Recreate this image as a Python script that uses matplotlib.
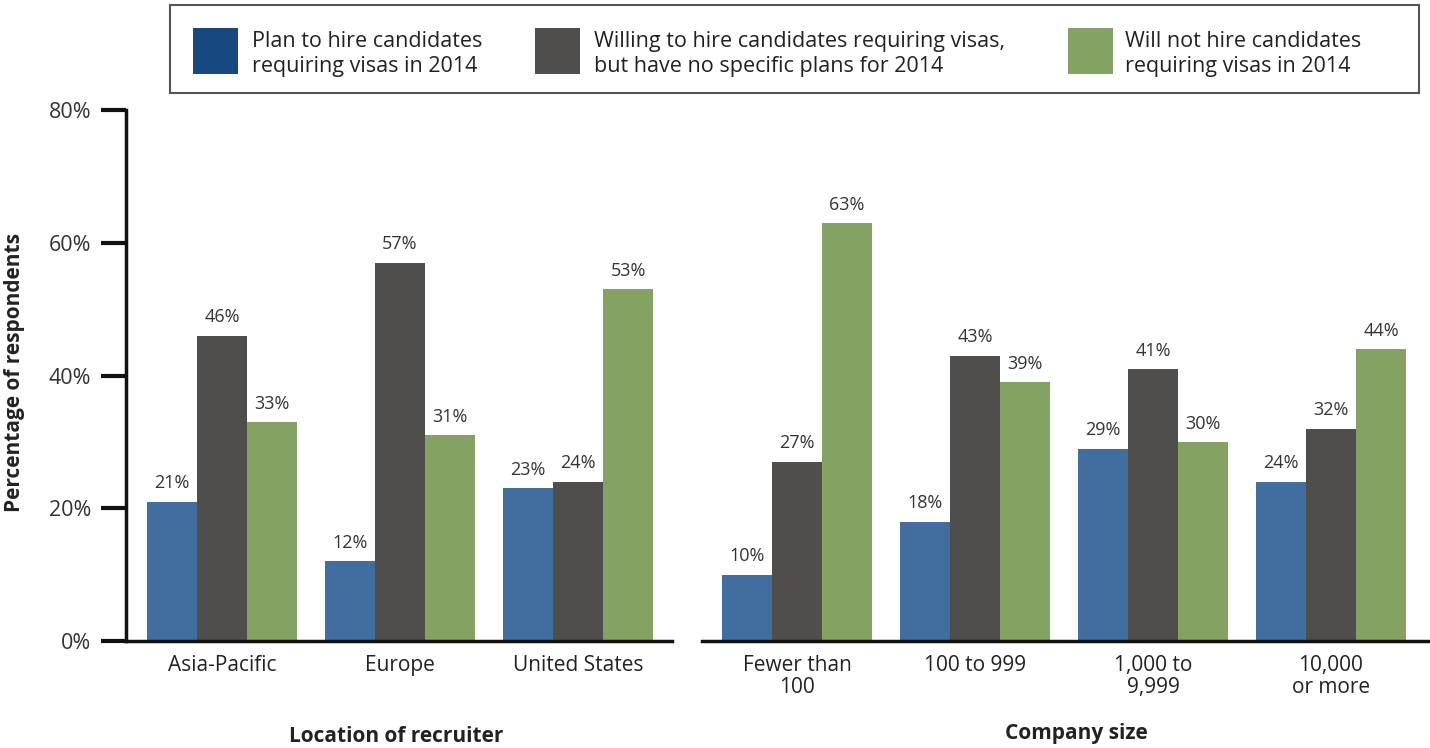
import matplotlib
matplotlib.use("Agg")
import matplotlib.pyplot as plt
from matplotlib.patches import Rectangle
import numpy as np

plt.rcParams['font.family'] = ['Open Sans', 'DejaVu Sans']

series = ["Plan to hire candidates\nrequiring visas in 2014",
          "Willing to hire candidates requiring visas,\nbut have no specific plans for 2014",
          "Will not hire candidates\nrequiring visas in 2014"]
bar_colors = ["#416e9e", "#4f4e4c", "#84a362"]
legend_colors = ["#17487f", "#4f4e4c", "#84a362"]

loc_cats = ["Asia-Pacific", "Europe", "United States"]
loc_plan = [21, 12, 23]
loc_willing = [46, 57, 24]
loc_willnot = [33, 31, 53]

size_cats = ["Fewer than\n100", "100 to 999", "1,000 to\n9,999", "10,000\nor more"]
size_plan = [10, 18, 29, 24]
size_willing = [27, 43, 41, 32]
size_willnot = [63, 39, 30, 44]

yticks = [0, 20, 40, 60, 80]
ytick_labels = ["0%", "20%", "40%", "60%", "80%"]

W, H = 1430, 748
fig = plt.figure(figsize=(W/100, H/100), dpi=100)

def fx(px): return px / W
def fy(py): return 1 - py / H

ax_bottom = fy(641)
ax_h = fy(110) - fy(641)
axL = fig.add_axes([fx(126), ax_bottom, fx(672 - 126), ax_h])
axR = fig.add_axes([fx(702), ax_bottom, fx(1428 - 702), ax_h])

bw = 50 / 178

def draw(ax, cats, vals, xlim):
    x = np.arange(len(cats))
    for i, (v, c) in enumerate(zip(vals, bar_colors)):
        xs = x + (i - 1) * bw
        ax.bar(xs, v, width=bw, color=c, linewidth=0)
        for xi, vi in zip(xs, v):
            ax.text(xi, vi + 1.4, f"{vi}%", ha='center', va='bottom',
                    fontsize=13, color='#333333')
    ax.set_xlim(*xlim)
    ax.set_ylim(0, 80)
    ax.set_xticks(x)
    ax.set_xticklabels(cats, fontsize=15, color='#222222', linespacing=1.1)
    ax.tick_params(axis='x', length=0, pad=10)
    for s in ['top', 'right']:
        ax.spines[s].set_visible(False)
    ax.spines['bottom'].set_linewidth(2.5)
    ax.spines['bottom'].set_color('#111111')

draw(axL, loc_cats, [loc_plan, loc_willing, loc_willnot], (-0.539, 2.528))
draw(axR, size_cats, [size_plan, size_willing, size_willnot], (-0.534, 3.545))

axL.set_yticks(yticks)
axL.set_yticklabels(ytick_labels, fontsize=15.5, color='#333333')
axL.tick_params(axis='y', length=18, width=3, direction='out', pad=7, color='#111111')
axL.spines['left'].set_linewidth(2.5)
axL.spines['left'].set_color('#111111')
axR.spines['left'].set_visible(False)
axR.set_yticks([])

fig.text(fx(15), fy(372), "Percentage of respondents", rotation=90, ha='center', va='center',
         fontsize=15, fontweight='bold', color='#222222')
fig.text(fx(396), fy(737), "Location of recruiter", ha='center', va='center',
         fontsize=15, fontweight='bold', color='#222222')
fig.text(fx(1076), fy(734), "Company size", ha='center', va='center',
         fontsize=15, fontweight='bold', color='#222222')

# legend
fig.add_artist(Rectangle((fx(170), fy(93)), fx(1419 - 170), fy(5) - fy(93),
                         transform=fig.transFigure, facecolor='white',
                         edgecolor='#555555', linewidth=1.5))
patch_x = [193, 535, 1068]
text_x = [252, 594, 1125]
for px, tx, lab, c in zip(patch_x, text_x, series, legend_colors):
    fig.add_artist(Rectangle((fx(px), fy(74)), fx(45), fy(28) - fy(74),
                             transform=fig.transFigure, facecolor=c, linewidth=0))
    fig.text(fx(tx), fy(54), lab, ha='left', va='center', fontsize=15.5,
             color='#222222', linespacing=1.2)

fig.savefig("out.png", dpi=100)
